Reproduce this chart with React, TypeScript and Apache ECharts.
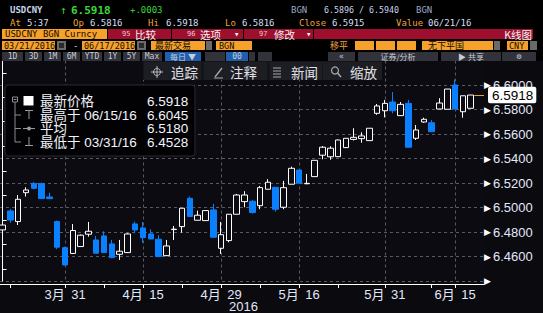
import React, { useEffect, useRef } from 'react';
import * as echarts from 'echarts';

// ---------- DATA ----------
const dates = [
  '2016-03-21', '2016-03-22', '2016-03-23', '2016-03-24', '2016-03-25', '2016-03-28', '2016-03-29', '2016-03-30', '2016-03-31',
  '2016-04-01', '2016-04-05', '2016-04-06', '2016-04-07', '2016-04-08', '2016-04-11', '2016-04-12', '2016-04-13', '2016-04-14',
  '2016-04-15', '2016-04-18', '2016-04-19', '2016-04-20', '2016-04-21', '2016-04-22', '2016-04-25', '2016-04-26', '2016-04-27',
  '2016-04-28', '2016-04-29', '2016-05-03', '2016-05-04', '2016-05-05', '2016-05-06', '2016-05-09', '2016-05-10', '2016-05-11',
  '2016-05-12', '2016-05-13', '2016-05-16', '2016-05-17', '2016-05-18', '2016-05-19', '2016-05-20', '2016-05-23', '2016-05-24',
  '2016-05-25', '2016-05-26', '2016-05-27', '2016-05-30', '2016-05-31', '2016-06-01', '2016-06-02', '2016-06-03', '2016-06-06',
  '2016-06-07', '2016-06-08', '2016-06-13', '2016-06-14', '2016-06-15', '2016-06-16', '2016-06-17',
];
const opens = [
  6.4817, 6.4972, 6.4885, 6.5121, 6.5195, 6.5195, 6.5086, 6.4885, 6.4672,
  6.4625, 6.4681, 6.4782, 6.4735, 6.4768, 6.4703, 6.4618, 6.4632, 6.4866,
  6.4833, 6.4784, 6.4741, 6.4607, 6.4820, 6.4844, 6.5075, 6.4896, 6.4893,
  6.4980, 6.4667, 6.4730, 6.4945, 6.5048, 6.5051, 6.5015, 6.5149, 6.5165,
  6.5002, 6.5190, 6.5306, 6.5194, 6.5252, 6.5427, 6.5414, 6.5415, 6.5489,
  6.5556, 6.5562, 6.5546, 6.5769, 6.5790, 6.5861, 6.5750, 6.5850, 6.5565,
  6.5698, 6.5692, 6.5804, 6.5802, 6.6000, 6.5782, 6.5810,
];
const closes = [
  6.4857, 6.4898, 6.5067, 6.5143, 6.5157, 6.5073, 6.5072, 6.4676, 6.4531,
  6.4812, 6.4774, 6.4806, 6.4627, 6.4632, 6.4591, 6.4643, 6.4784, 6.4817,
  6.4754, 6.4743, 6.4599, 6.4686, 6.4823, 6.4994, 6.4926, 6.4937, 6.4975,
  6.4757, 6.4778, 6.4945, 6.5102, 6.5102, 6.4959, 6.5162, 6.5206, 6.4986,
  6.5162, 6.5320, 6.5198, 6.5197, 6.5385, 6.5492, 6.5484, 6.5551, 6.5565,
  6.5573, 6.5584, 6.5647, 6.5829, 6.5850, 6.5790, 6.5842, 6.5492, 6.5633,
  6.5720, 6.5619, 6.5853, 6.5967, 6.5804, 6.5912, 6.5918,
];
const lows = [
  6.4776, 6.4876, 6.4857, 6.5089, 6.5149, 6.5070, 6.5072, 6.4660, 6.4528,
  6.4622, 6.4678, 6.4762, 6.4627, 6.4630, 6.4586, 6.4572, 6.4628, 6.4790,
  6.4713, 6.4740, 6.4597, 6.4603, 6.4735, 6.4795, 6.4926, 6.4896, 6.4893,
  6.4757, 6.4621, 6.4716, 6.4945, 6.5002, 6.4950, 6.4986, 6.5149, 6.4966,
  6.4986, 6.5190, 6.5198, 6.5190, 6.5252, 6.5394, 6.5390, 6.5412, 6.5485,
  6.5547, 6.5529, 6.5546, 6.5757, 6.5736, 6.5769, 6.5750, 6.5492, 6.5551,
  6.5692, 6.5619, 6.5804, 6.5802, 6.5804, 6.5733, 6.5810,
];
const highs = [
  6.4874, 6.4986, 6.5102, 6.5165, 6.5209, 6.5203, 6.5121, 6.4893, 6.4680,
  6.4865, 6.4780, 6.4882, 6.4768, 6.4806, 6.4735, 6.4735, 6.4790, 6.4885,
  6.4882, 6.4822, 6.4774, 6.4735, 6.4849, 6.4996, 6.5089, 6.4974, 6.4977,
  6.5029, 6.4882, 6.4947, 6.5111, 6.5133, 6.5060, 6.5176, 6.5231, 6.5165,
  6.5217, 6.5334, 6.5306, 6.5274, 6.5385, 6.5502, 6.5500, 6.5555, 6.5567,
  6.5647, 6.5614, 6.5647, 6.5845, 6.5878, 6.5943, 6.5861, 6.5878, 6.5673,
  6.5733, 6.5714, 6.5892, 6.5967, 6.6045, 6.5912, 6.5918,
];
const labelDates = ['2016-03-31', '2016-04-15', '2016-04-29', '2016-05-16', '2016-05-31', '2016-06-15'];
const minorTickDates = ['2016-03-22', '2016-04-08', '2016-04-22', '2016-05-09', '2016-05-23', '2016-06-08'];
const yearLabel = '2016';
const yMin = 6.44;
const yMax = 6.62;
const yStep = 0.02;

const legendLabels = ['最新价格', '最高于 06/15/16', '平均', '最低于 03/31/16'];
const legendValues = ['6.5918', '6.6045', '6.5180', '6.4528'];

const sparkWhite = [6.59085, 6.5905, 6.58975, 6.58815, 6.5895, 6.59, 6.59025, 6.5905, 6.59075, 6.591, 6.59225];
const sparkRed = [6.592, 6.59265, 6.59265, 6.5929, 6.5931, 6.59335];

// ---------- STYLE HELPERS ----------
const MONO = "'DejaVu Sans Mono', monospace";
const SANS = "'Liberation Sans', 'Noto Sans CJK SC', sans-serif";
const CJK = "'Noto Sans CJK SC', sans-serif";
const ORANGE = '#f2a23a';
const LIGHT = '#d6def0';
const RED = '#9e0f2e';
const BTN = '#32323a';
const BLUEBTN = '#1f5fae';
const GRIDC = '#5a5a5e';

const T = (x: number, y: number, text: string, fill: string, size = 9, family = MONO, weight = 'normal', align = 'left'): any => ({
  type: 'text', x, y, z: 101, silent: true,
  style: { text, fill, font: `${weight} ${size}px ${family}`, textAlign: align, textVerticalAlign: 'middle' },
});
const R = (x: number, y: number, w: number, h: number, fill: string, extra: any = {}): any => ({
  type: 'rect', z: 100, silent: true,
  shape: { x, y, width: w, height: h, r: extra.r || 0 },
  style: { fill, stroke: extra.stroke || null, lineWidth: extra.lw || 0 },
});
const L = (x1: number, y1: number, x2: number, y2: number, stroke: string, lw = 1): any => ({
  type: 'line', z: 102, silent: true,
  shape: { x1, y1, x2, y2 }, style: { stroke, lineWidth: lw },
});

function buildGraphics(): any[] {
  const g: any[] = [];
  g.push(R(0, 0, 543, 61, '#000'));
  // row 1
  g.push(T(10, 10, 'USDCNY', '#c9d3ea', 9, MONO, 'bold'));
  g.push(T(60, 10, '↑', '#35d035', 11, MONO));
  g.push(T(71, 10, '6.5918', '#3ad83a', 11, MONO, 'bold'));
  g.push(T(130, 10, '+.0003', '#3ad83a', 9, MONO));
  g.push(T(291, 10, 'BGN', '#9aa7c6', 9, MONO));
  g.push(T(324, 10, '6.5896 / 6.5940', '#c9d3ea', 8.3, MONO));
  g.push(T(416, 10, 'BGN', '#9aa7c6', 9, MONO));
  // row 2
  const r2: [number, string, number, string][] = [
    [10, 'At', 27, '5:37'], [73, 'Op', 90, '6.5816'], [148, 'Hi', 166, '6.5918'],
    [225, 'Lo', 242, '6.5816'], [299, 'Close', 332, '6.5915'], [396, 'Value', 428, '06/21/16'],
  ];
  r2.forEach(([x1, a, x2, b]) => { g.push(T(x1, 22.5, a, ORANGE, 9)); g.push(T(x2, 22.5, b, LIGHT, 9)); });
  // row 3
  g.push(R(2, 29, 105, 10, '#f5a12b'));
  g.push(T(5, 34, 'USDCNY BGN Curncy', '#140c00', 9));
  g.push(R(108, 29, 63, 10, RED));
  g.push(R(172, 29, 71, 10, RED));
  g.push(R(244, 29, 69, 10, RED));
  g.push(R(314, 29, 219, 10, RED));
  g.push(T(122, 34, '95', '#e8c8d0', 7));
  g.push(T(135, 34, '比较', '#f4f4f4', 10.5, CJK));
  g.push(T(187, 34, '96', '#e8c8d0', 7));
  g.push(T(200, 34, '选项', '#f4f4f4', 10.5, CJK));
  g.push(T(234, 34, '▾', '#f4f4f4', 9, MONO));
  g.push(T(259, 34, '97', '#e8c8d0', 7));
  g.push(T(274, 34, '修改', '#f4f4f4', 10.5, CJK));
  g.push(T(306, 34, '▾', '#f4f4f4', 9, MONO));
  g.push(T(532, 34, 'K线图', '#f4f4f4', 10.5, CJK, 'normal', 'right'));
  // row 4
  g.push(R(2, 41, 53, 9, '#f5a12b'));
  g.push(T(4, 45.5, '03/21/2016', '#140c00', 8.5));
  g.push(R(57, 41, 9, 9, '#6a6a6a'));
  g.push(R(59, 43, 5, 5, '#2a2a2a'));
  g.push(T(73, 45.5, '-', LIGHT, 9));
  g.push(R(82, 41, 53, 9, '#f5a12b'));
  g.push(T(84, 45.5, '06/17/2016', '#140c00', 8.5));
  g.push(R(137, 41, 9, 9, '#6a6a6a'));
  g.push(R(139, 43, 5, 5, '#2a2a2a'));
  g.push(R(151, 41, 54, 9, '#f5a12b'));
  g.push(T(155, 45.5, '最新交易', '#140c00', 9, CJK));
  g.push(R(206, 41, 6, 9, '#6a6a6a'));
  g.push(R(216, 41, 36, 9, '#f5a12b'));
  g.push(T(219, 45.5, 'BGN', '#140c00', 8.5));
  g.push(T(330, 45.5, '移平', ORANGE, 9, CJK));
  g.push(R(355, 41, 19, 9, '#f5a12b'));
  g.push(R(376, 41, 19, 9, '#f5a12b'));
  g.push(R(397, 41, 19, 9, '#f5a12b'));
  g.push(R(422, 41, 71, 9, '#f5a12b'));
  g.push(T(428, 45.5, '无下平国', '#140c00', 9, CJK));
  g.push(R(494, 41, 6, 9, '#6a6a6a'));
  g.push(R(507, 41, 21, 9, '#f5a12b'));
  g.push(T(509, 45.5, 'CNY', '#140c00', 8.5));
  g.push(R(530, 41, 7, 9, '#6a6a6a'));
  // row 5 buttons
  const btns: [number, number, string, string][] = [
    [2, 21, '1D', BTN], [25, 17, '3D', BTN], [44, 17, '1M', BTN], [63, 17, '6M', BTN], [82, 20, 'YTD', BTN],
    [104, 17, '1Y', BTN], [123, 17, '5Y', BTN], [142, 20, 'Max', BTN], [165, 36, '每日 ▼', BLUEBTN],
    [205, 20, '', BTN], [226, 22, '00', BLUEBTN], [249, 6, '', BTN], [258, 14, '', BTN],
    [328, 27, '«', BTN], [358, 80, '证券/分析', BTN], [441, 60, '▶ 共享', BTN], [502, 34, '⚙', BTN],
  ];
  btns.forEach(([x, w, t, c]) => {
    g.push(R(x, 52, w, 9, c));
    if (t) g.push(T(x + w / 2, 56.5, t, '#c8ccd8', 8, t.match(/[\u4e00-\u9fff]/) ? CJK : MONO, 'normal', 'center'));
  });
  // toolbar
  g.push(R(143, 61, 239, 19, '#141419'));
  const tb: [number, number][] = [[144, 57], [204, 63], [270, 52], [323, 59]];
  tb.forEach(([x, w]) => g.push(R(x, 62, w, 18, '#1d1d24')));
  g.push(T(171, 72, '追踪', '#e2e2e6', 13.5, CJK));
  g.push(T(230, 72, '注释', '#e2e2e6', 13.5, CJK));
  g.push(T(291, 72, '新闻', '#e2e2e6', 13.5, CJK));
  g.push(T(350, 72, '缩放', '#e2e2e6', 13.5, CJK));
  g.push({ type: 'circle', z: 102, silent: true, shape: { cx: 157, cy: 72, r: 3.5 }, style: { fill: 'none', stroke: '#b8b8c0', lineWidth: 1 } });
  g.push(L(151, 72, 163, 72, '#b8b8c0'));
  g.push(L(157, 66, 157, 78, '#b8b8c0'));
  g.push(L(215, 77, 222, 68, '#a8a8b0', 1.3));
  g.push(L(214, 78, 223, 78, '#a8a8b0', 1));
  [68, 71, 74, 77].forEach((yy) => g.push(L(273, yy, 281, yy, '#a8a8b0')));
  g.push({ type: 'circle', z: 102, silent: true, shape: { cx: 335, cy: 70.5, r: 3.5 }, style: { fill: 'none', stroke: '#a8a8b0', lineWidth: 1.2 } });
  g.push(L(337.5, 73, 341, 77, '#a8a8b0', 1.5));
  // legend box
  g.push(R(5, 85, 190, 71, '#020204', { r: 3, stroke: '#2a2a31', lw: 1 }));
  const rowsY = [101, 115, 128.5, 142];
  g.push({ type: 'rect', z: 102, silent: true, shape: { x: 12.5, y: 97, width: 5, height: 5 }, style: { fill: 'none', stroke: '#8a8a90', lineWidth: 1 } });
  g.push(L(13.5, 99.5, 16.5, 99.5, '#8a8a90'));
  g.push(L(15, 102, 15, rowsY[3], '#8a8a90'));
  rowsY.slice(1).forEach((yy) => g.push(L(15, yy, 21, yy, '#8a8a90')));
  g.push(R(23.5, 96, 10, 9.5, '#ffffff'));
  g.push(L(25, 110.5, 33, 110.5, '#9a9aa0'));
  g.push(L(29, 110.5, 29, 119, '#9a9aa0'));
  g.push(L(23, 128.5, 35, 128.5, '#9a9aa0'));
  g.push({ type: 'circle', z: 102, silent: true, shape: { cx: 29, cy: 128.5, r: 2 }, style: { fill: '#9a9aa0' } });
  g.push(L(29, 137, 29, 145.5, '#9a9aa0'));
  g.push(L(25, 145.5, 33, 145.5, '#9a9aa0'));
  legendLabels.forEach((lab, i) => {
    g.push(T(40, rowsY[i], lab, '#f2f4fa', 13.5, SANS));
    g.push(T(147, rowsY[i], legendValues[i], '#f2f4fa', 13.5, SANS));
  });
  g.push(T(243.5, 306.5, yearLabel, '#e2e8fa', 13, SANS, 'normal', 'center'));
  return g;
}

function fmtDate(d: string): string {
  const [, m, dd] = d.split('-');
  return `${parseInt(m, 10)}月\u2002${dd}`;
}

export default function App() {
  const ref = useRef<HTMLDivElement>(null);
  useEffect(() => {
    if (!ref.current) return;
    const chart = echarts.init(ref.current, undefined, { renderer: 'svg' });
    const candles = dates.map((_, i) => [i, opens[i], closes[i], lows[i], highs[i]]);
    const labelIdx = labelDates.map((d) => dates.indexOf(d));
    const tickIdx = [...labelIdx, ...minorTickDates.map((d) => dates.indexOf(d))].sort((a, b) => a - b);
    const lastIdx = dates.length - 1;
    const lastClose = closes[lastIdx];
    const xMin = -0.333;
    const xMax = 61.7;

    const option: any = {
      animation: false,
      backgroundColor: '#0a0a0f',
      grid: [
        { left: 0, right: 59, top: 60.5, bottom: 32, show: true, backgroundColor: '#0b0b11', borderWidth: 0 },
        { left: 180, top: 5, width: 86, height: 11, show: false },
      ],
      xAxis: [
        {
          type: 'value', gridIndex: 0, min: xMin, max: xMax, offset: 3,
          axisLine: { show: true, lineStyle: { color: '#ffffff', width: 1 } },
          axisTick: { show: true, customValues: tickIdx, length: 4, lineStyle: { color: '#ffffff' } },
          axisLabel: {
            show: true, customValues: labelIdx, margin: 4,
            formatter: (v: number) => fmtDate(dates[Math.round(v)]),
            color: '#e2e8fa', fontSize: 13, fontFamily: SANS,
          },
          splitLine: { show: false },
        },
        { type: 'value', gridIndex: 1, min: 0, max: 13, show: false },
      ],
      yAxis: [
        {
          type: 'value', gridIndex: 0, position: 'right', min: yMin, max: yMax, interval: yStep,
          axisLine: { show: true, lineStyle: { color: '#ffffff', width: 1 } },
          axisTick: { show: false },
          minorTick: { show: true, splitNumber: 2, length: 4, lineStyle: { color: '#ffffff', width: 1 } },
          splitLine: { show: true, lineStyle: { color: GRIDC, type: [3, 3], width: 1 } },
          axisLabel: {
            show: true, margin: 0, showMinLabel: true, showMaxLabel: true,
            formatter: (v: number) => {
              if (Math.abs(v - yMax) < 1e-6) return '';
              if (Math.abs(v - yMin) < 1e-6) return '{t|▶}';
              return `{t|▶}{v|${v.toFixed(4)}}`;
            },
            rich: {
              t: { fontFamily: "'DejaVu Sans'", fontSize: 9, color: '#ffffff', padding: [0, 2, 0, 0] },
              v: { fontFamily: SANS, fontSize: 13, color: '#e2e8fa' },
            },
          },
        },
        { type: 'value', gridIndex: 1, min: 6.588, max: 6.5935, show: false },
      ],
      series: [
        {
          // vertical dashed grid lines at the labelled dates
          type: 'custom', xAxisIndex: 0, yAxisIndex: 0, z: 1, silent: true, clip: false,
          data: labelIdx.map((i) => [i]),
          encode: { x: 0 },
          renderItem: (_params: any, api: any) => {
            const x = api.value(0);
            const p1 = api.coord([x, yMax]);
            const p2 = api.coord([x, yMin]);
            return {
              type: 'line',
              shape: { x1: Math.round(p1[0]) + 0.5, y1: p1[1], x2: Math.round(p2[0]) + 0.5, y2: p2[1] },
              style: { stroke: GRIDC, lineWidth: 1, lineDash: [3, 3], fill: null },
            };
          },
        },
        {
          type: 'candlestick', xAxisIndex: 0, yAxisIndex: 0, data: candles, barWidth: 6, z: 3,
          itemStyle: { color: '#0b0b11', color0: '#0a80ff', borderColor: '#ffffff', borderColor0: '#0a80ff', borderWidth: 1 },
          markLine: {
            silent: true, symbol: ['none', 'none'], animation: false,
            lineStyle: { color: '#f0a030', type: 'solid', width: 1 },
            label: {
              show: true, position: 'end', distance: 4,
              formatter: () => lastClose.toFixed(4),
              backgroundColor: '#ffffff', color: '#000000', fontSize: 13.5, fontFamily: SANS,
              padding: [2, 3, 1, 4], borderRadius: 2,
            },
            data: [[{ coord: [lastIdx + 0.45, lastClose] }, { coord: [xMax, lastClose] }]],
          },
        },
        {
          type: 'line', xAxisIndex: 1, yAxisIndex: 1, showSymbol: false, silent: true,
          data: sparkWhite.map((v, i) => [i, v]), lineStyle: { color: '#ffffff', width: 1 },
        },
        {
          type: 'line', xAxisIndex: 1, yAxisIndex: 1, showSymbol: false, silent: true,
          data: sparkRed.map((v, i) => [8 + i, v]), lineStyle: { color: '#e02424', width: 1 },
        },
      ],
      graphic: buildGraphics(),
    };
    chart.setOption(option);
    return () => chart.dispose();
  }, []);
  return <div ref={ref} style={{ position: 'fixed', left: 0, top: 0, width: 543, height: 313 }} />;
}
